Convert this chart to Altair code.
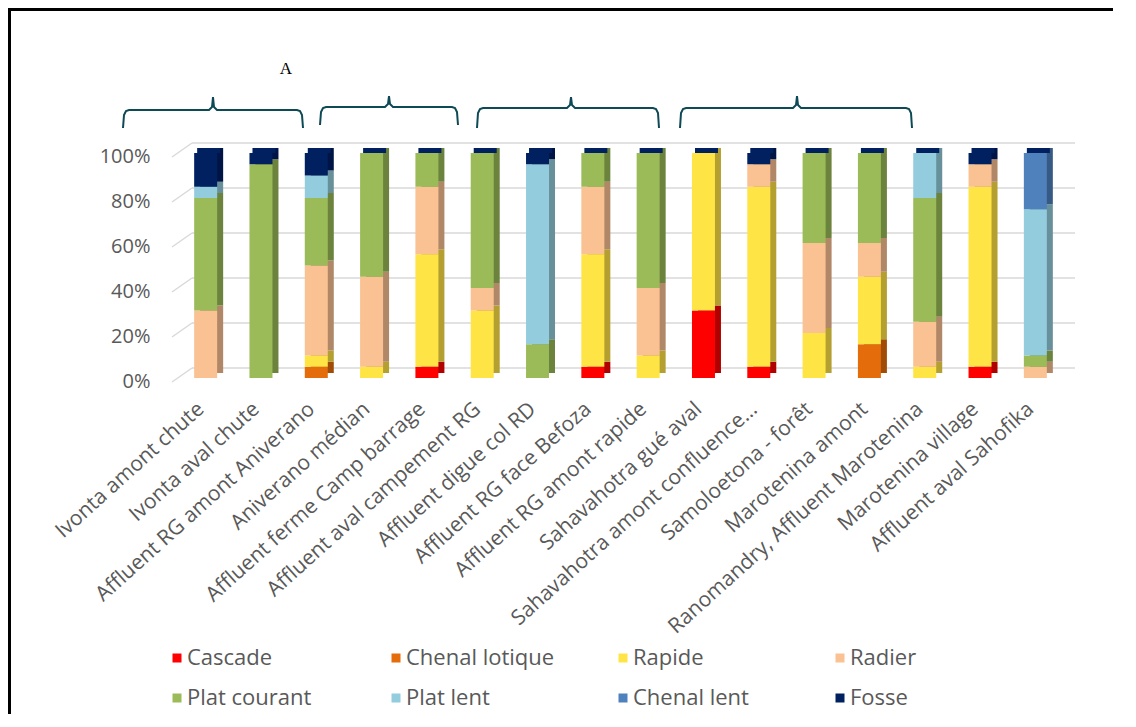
import altair as alt
import pandas as pd
import json

# ---------------- data ----------------
categories = [
    "Ivonta amont chute", "Ivonta aval chute", "Affluent RG amont Aniverano",
    "Aniverano médian", "Affluent ferme Camp barrage", "Affluent aval campement RG",
    "Affluent digue col RD", "Affluent RG face Befoza", "Affluent RG amont rapide",
    "Sahavahotra gué aval", "Sahavahotra amont confluence…", "Samoloetona - forêt",
    "Marotenina amont", "Ranomandry, Affluent Marotenina", "Marotenina village",
    "Affluent aval Sahofika",
]
series = ["Cascade", "Chenal lotique", "Rapide", "Radier",
          "Plat courant", "Plat lent", "Chenal lent", "Fosse"]
front_colors = ["#FF0000", "#E46C0A", "#FFE445", "#FAC193",
                "#9BBB59", "#93CDDD", "#4F81BD", "#002060"]
side_colors = ["#B00000", "#A04C07", "#B3A030", "#B08767",
               "#6C833E", "#67909B", "#375A85", "#001545"]

cascade        = [0, 0, 0, 0, 5, 0, 0, 5, 0, 30, 5, 0, 0, 0, 5, 0]
chenal_lotique = [0, 0, 5, 0, 0, 0, 0, 0, 0, 0, 0, 0, 15, 0, 0, 0]
rapide         = [0, 0, 5, 5, 50, 30, 0, 50, 10, 70, 80, 20, 30, 5, 80, 0]
radier         = [30, 0, 40, 40, 30, 10, 0, 30, 30, 0, 10, 40, 15, 20, 10, 5]
plat_courant   = [50, 95, 30, 55, 15, 60, 15, 15, 60, 0, 0, 40, 40, 55, 0, 5]
plat_lent      = [5, 0, 10, 0, 0, 0, 80, 0, 0, 0, 0, 0, 0, 20, 0, 65]
chenal_lent    = [0, 0, 0, 0, 0, 0, 0, 0, 0, 0, 0, 0, 0, 0, 0, 25]
fosse          = [15, 5, 10, 0, 0, 0, 5, 0, 0, 0, 5, 0, 0, 0, 5, 0]
all_values = [cascade, chenal_lotique, rapide, radier,
              plat_courant, plat_lent, chenal_lent, fosse]

y_ticks = [0, 20, 40, 60, 80, 100]

# group braces (page pixels): x0, xm, x1, y_line, y_end, y_peak
braces = [
    (123, 213, 303, 110, 128, 97),
    (320, 389, 458, 107, 125, 96),
    (477, 571, 659, 108, 128, 97),
    (680, 797, 912, 108, 128, 96),
]
group_label = "A"

# ---------------- layout ----------------
W, H = 885, 225
PAD_L, PAD_T, PAD_R, PAD_B = 170, 145, 50, 336
X0, Y0 = 8 + PAD_L, 8 + PAD_T       # page position of plot origin
N = len(categories)
STEP = W / N
FONT = "Open Sans"
GRAY = "#595959"
BAR = 23


def xu(page_x):
    """page pixel -> x data units (bar index)"""
    return (page_x - X0) / STEP - 0.5


def yu(page_y):
    """page pixel -> y data units (percent)"""
    return (Y0 + H - page_y) / H * 100


rows = []
for si, s in enumerate(series):
    for ci, c in enumerate(categories):
        v = all_values[si][ci]
        if v > 0:
            rows.append(dict(cat=c, i=ci, serie=s, o=si, v=v,
                             col=front_colors[si], side=side_colors[si]))
df = pd.DataFrame(rows)

xscale = alt.Scale(domain=[-0.5, N - 0.5], nice=False, zero=False, padding=0)
yscale = alt.Scale(domain=[0, 100], nice=False, zero=False, padding=0)

label_expr = json.dumps(categories, ensure_ascii=False) + "[datum.value]"

x_axis = alt.Axis(title=None, values=list(range(N)), labelExpr=label_expr,
                  labelAngle=-42, labelAlign="right",
                  labelBaseline="middle", labelPadding=28, labelOffset=-5,
                  labelFont=FONT, labelFontSize=21, labelColor=GRAY,
                  labelLimit=1000, labelOverlap=False, labelFlush=False,
                  grid=False, domain=False, ticks=False)
y_axis = alt.Axis(title=None, values=y_ticks,
                  labelExpr="datum.value + '%'", grid=False,
                  domain=False, ticks=False, labelPadding=28,
                  labelOffset=3, labelFlush=False,
                  labelFont=FONT, labelFontSize=20, labelColor=GRAY)


def X(field):
    return alt.X(field, scale=xscale, axis=x_axis)


def Y(field, **kw):
    return alt.Y(field, scale=yscale, axis=y_axis, **kw)


grid_df = pd.DataFrame({"t": y_ticks})
back_grid = alt.Chart(grid_df).mark_rule(
    color="#d9d9d9", strokeWidth=1.5, yOffset=-10
).encode(
    x=alt.value(14), x2=alt.value(W + 12),
    y=Y("t:Q"),
)
diag_grid = alt.Chart(grid_df).mark_rule(
    color="#d9d9d9", strokeWidth=1.5, yOffset=4, y2Offset=-10
).encode(
    x=alt.value(-6), x2=alt.value(14),
    y=Y("t:Q"), y2="t:Q",
)

side = alt.Chart(df).mark_bar(size=BAR, xOffset=6, yOffset=-5).encode(
    x=X("i:Q"),
    y=Y("v:Q", stack="zero"),
    color=alt.Color("side:N", scale=None),
    detail="serie:N",
    order=alt.Order("o:Q"),
)

front = alt.Chart(df).mark_bar(size=BAR).encode(
    x=X("i:Q"),
    y=Y("v:Q", stack="zero"),
    color=alt.Color("col:N", scale=None),
    detail="serie:N",
    order=alt.Order("o:Q"),
)

cap = alt.Chart(df).mark_tick(
    color="#002060", thickness=5, size=BAR, xOffset=3, yOffset=-2.5,
    orient="horizontal"
).encode(
    x=X("i:Q"),
    y=Y("sum(v):Q"),
)

# ---------------- annotations ----------------
pts = []
for bi, (x0, xm, x1, yl, ye, yp) in enumerate(braces):
    seq = [(x0, ye), (x0 + 1, yl + 5), (x0 + 3, yl + 1), (x0 + 6, yl),
           (xm - 4, yl), (xm - 1, yl - 3), (xm, yp), (xm + 1, yl - 3),
           (xm + 4, yl), (x1 - 6, yl), (x1 - 3, yl + 1), (x1 - 1, yl + 5), (x1, ye)]
    for k, (a, b) in enumerate(seq):
        pts.append(dict(b=bi, k=k, x=xu(a), y=yu(b)))
brace_df = pd.DataFrame(pts)

brace_chart = alt.Chart(brace_df).mark_line(
    color="#0D4A55", strokeWidth=2
).encode(
    x=X("x:Q"), y=Y("y:Q"),
    detail="b:N",
    order="k:Q",
)

a_df = pd.DataFrame({"t": [group_label], "x": [xu(286)], "y": [yu(69)]})
a_chart = alt.Chart(a_df).mark_text(
    font="Liberation Serif", fontSize=17, color="black"
).encode(
    x=X("x:Q"), y=Y("y:Q"),
    text="t:N",
)

leg_cols = [177, 396, 623, 840]
leg_rows = [658, 698]
leg = []
for i, s in enumerate(series):
    leg.append(dict(name=s, col=front_colors[i],
                    x=xu(leg_cols[i % 4]), y=yu(leg_rows[i // 4])))
leg_df = pd.DataFrame(leg)

leg_sq = alt.Chart(leg_df).mark_square(size=81, opacity=1).encode(
    x=X("x:Q"), y=Y("y:Q"),
    color=alt.Color("col:N", scale=None),
)
leg_tx = alt.Chart(leg_df).mark_text(
    align="left", baseline="middle", dx=10, font=FONT, fontSize=22, color=GRAY
).encode(
    x=X("x:Q"), y=Y("y:Q"),
    text="name:N",
)

frame_df = pd.DataFrame({"x": [xu(8), xu(9.5)], "x2": [xu(8 + PAD_L + W + PAD_R), xu(9.5)],
                         "y": [yu(9.5), yu(8)], "y2": [yu(9.5), yu(8 + PAD_T + H + PAD_B)]})
frame = alt.Chart(frame_df).mark_rule(color="black", strokeWidth=3).encode(
    x=X("x:Q"), x2="x2:Q",
    y=Y("y:Q"), y2="y2:Q",
)

chart = alt.layer(
    back_grid, diag_grid, side, front, cap,
    brace_chart, a_chart, leg_sq, leg_tx, frame
).properties(
    width=W, height=H,
    autosize=alt.AutoSizeParams(type="none"),
    padding={"left": PAD_L, "top": PAD_T, "right": PAD_R, "bottom": PAD_B},
).configure_view(stroke=None)

chart.save("out.html", embed_options={"renderer": "svg", "actions": False})
